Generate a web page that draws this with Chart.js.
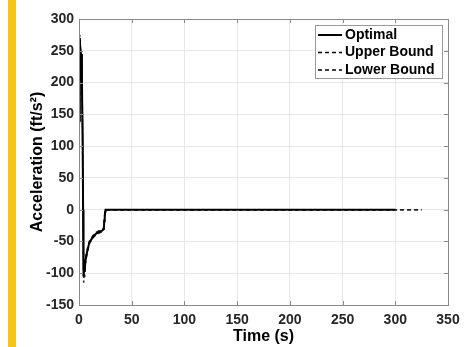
<!DOCTYPE html>
<html>
<head>
<meta charset="utf-8">
<script src="https://cdn.jsdelivr.net/npm/chart.js@4/dist/chart.umd.min.js"></script>
<style>
  html, body { margin: 0; padding: 0; background: #fff; }
  #wrap { position: relative; width: 473px; height: 347px; }
  #stripe { position: absolute; left: 8px; top: 0; width: 8px; height: 347px; background: #f5c518; }
  canvas { position: absolute; left: 0; top: 0; }
</style>
</head>
<body>
<div id="wrap">
  <div id="stripe"></div>
  <canvas id="myChart" width="473" height="347"></canvas>
</div>
<script>
// time (s) and acceleration (ft/s^2)
const optimalTime  = [0.3, 0.8, 1.2, 2, 2.8, 3.4, 3.9, 4.3, 4.8, 5.3, 6, 7, 8, 9, 10, 12, 14, 16, 18, 20, 22, 23.5, 24, 24.4, 24.8, 25.2, 300];
const optimalAccel = [140, 270, 252, 245, 200, 120, 0, -105, -90, -98, -82, -72, -64, -57, -51, -46, -41, -38, -36, -34, -33, -31, -18, -10, -3, 0, 0];

const upperTime  = [0.2, 0.7, 1.1, 1.8, 2.6, 3.3, 3.8, 4.2, 4.7, 5.2, 6, 7, 8, 9, 10, 12, 14, 16, 18, 20, 22, 23.5, 24, 24.4, 24.8, 25.2, 325];
const upperAccel = [150, 275, 258, 250, 210, 130, 10, -95, -85, -92, -78, -69, -61, -54, -49, -44, -39, -36, -34, -32, -31, -29, -16, -8, -2, 0, 0];

const lowerTime  = [0.4, 0.9, 1.3, 2.1, 2.9, 3.5, 4, 4.4, 4.9, 5.4, 6, 7, 8, 9, 10, 12, 14, 16, 18, 20, 22, 23.5, 24, 24.4, 24.8, 25.2, 325];
const lowerAccel = [135, 265, 245, 238, 190, 110, -10, -115, -100, -106, -86, -75, -67, -60, -53, -48, -43, -40, -38, -36, -35, -33, -20, -12, -4, 0, 0];

const xTicks = [0, 50, 100, 150, 200, 250, 300, 350];
const yTicks = [-150, -100, -50, 0, 50, 100, 150, 200, 250, 300];

function pts(t, v) {
  return t.map((x, i) => ({ x: x, y: v[i] }));
}

// MATLAB-style frame, inner tick marks and legend inside the axes
const boxLegend = {
  id: 'boxLegend',
  afterDraw(chart) {
    const ctx = chart.ctx;
    const a = chart.chartArea;
    const xs = chart.scales.x, ys = chart.scales.y;
    ctx.save();
    ctx.strokeStyle = '#8a8a8a';
    ctx.lineWidth = 1;
    ctx.strokeRect(Math.round(a.left) + 0.5, Math.round(a.top) + 0.5, Math.round(a.right - a.left), Math.round(a.bottom - a.top));
    ctx.beginPath();
    xTicks.forEach(v => {
      const px = Math.round(xs.getPixelForValue(v)) + 0.5;
      ctx.moveTo(px, a.bottom); ctx.lineTo(px, a.bottom - 4);
      ctx.moveTo(px, a.top); ctx.lineTo(px, a.top + 4);
    });
    yTicks.forEach(v => {
      const py = Math.round(ys.getPixelForValue(v)) + 0.5;
      ctx.moveTo(a.left, py); ctx.lineTo(a.left + 4, py);
      ctx.moveTo(a.right, py); ctx.lineTo(a.right - 4, py);
    });
    ctx.stroke();

    // legend
    const bx = 315.5, by = 25.5, bw = 127, bh = 53;
    ctx.fillStyle = '#fff';
    ctx.fillRect(bx, by, bw, bh);
    ctx.strokeStyle = '#9a9a9a';
    ctx.strokeRect(bx, by, bw, bh);
    ctx.font = 'bold 14px "Liberation Sans", Arial, sans-serif';
    ctx.textBaseline = 'middle';
    ctx.fillStyle = '#000';
    chart.data.datasets.forEach((ds, i) => {
      const y = 35 + i * 17.5;
      ctx.beginPath();
      ctx.strokeStyle = '#000';
      ctx.lineWidth = ds.borderWidth;
      ctx.setLineDash(ds.borderDash || []);
      ctx.moveTo(318, y);
      ctx.lineTo(342, y);
      ctx.stroke();
      ctx.setLineDash([]);
      ctx.fillText(ds.label, 345, y);
    });
    ctx.restore();
  }
};

const ctx = document.getElementById('myChart').getContext('2d');

const myChart = new Chart(ctx, {
    type: 'line',
    data: {
        datasets: [{
            label: 'Optimal',
            data: pts(optimalTime, optimalAccel),
            borderColor: '#000',
            borderWidth: 2,
            pointRadius: 0,
            tension: 0
        }, {
            label: 'Upper Bound',
            data: pts(upperTime, upperAccel),
            borderColor: '#222',
            borderWidth: 1.5,
            borderDash: [4, 3],
            pointRadius: 0,
            tension: 0
        }, {
            label: 'Lower Bound',
            data: pts(lowerTime, lowerAccel),
            borderColor: '#222',
            borderWidth: 1.5,
            borderDash: [4, 3],
            pointRadius: 0,
            tension: 0
        }]
    },
    options: {
        responsive: false,
        animation: false,
        layout: { padding: { top: 19, right: 25, left: 0, bottom: 0 } },
        plugins: {
            legend: { display: false },
            tooltip: { enabled: false }
        },
        scales: {
            x: {
                type: 'linear',
                min: 0,
                max: 350,
                afterBuildTicks: s => { s.ticks = xTicks.map(v => ({ value: v })); },
                afterFit: s => { s.height = 42; },
                grid: { color: '#e8e8e8', drawTicks: false },
                border: { display: false },
                ticks: {
                    padding: 7,
                    color: '#262626',
                    font: { family: '"Liberation Sans", Arial, sans-serif', size: 14, weight: 'bold' }
                },
                title: {
                    display: true,
                    text: 'Time (s)',
                    color: '#000',
                    padding: { top: 0, bottom: 1 },
                    font: { family: '"Liberation Sans", Arial, sans-serif', size: 16, weight: 'bold' }
                }
            },
            y: {
                min: -150,
                max: 300,
                afterBuildTicks: s => { s.ticks = yTicks.map(v => ({ value: v })); },
                afterFit: s => { s.width = 79; },
                grid: { color: '#e8e8e8', drawTicks: false },
                border: { display: false },
                ticks: {
                    padding: 5,
                    color: '#262626',
                    font: { family: '"Liberation Sans", Arial, sans-serif', size: 14, weight: 'bold' }
                },
                title: {
                    display: true,
                    text: 'Acceleration (ft/s²)',
                    color: '#000',
                    padding: { top: 28, bottom: 0 },
                    font: { family: '"Liberation Sans", Arial, sans-serif', size: 16, weight: 'bold' }
                }
            }
        }
    },
    plugins: [boxLegend]
});
</script>
</body>
</html>
